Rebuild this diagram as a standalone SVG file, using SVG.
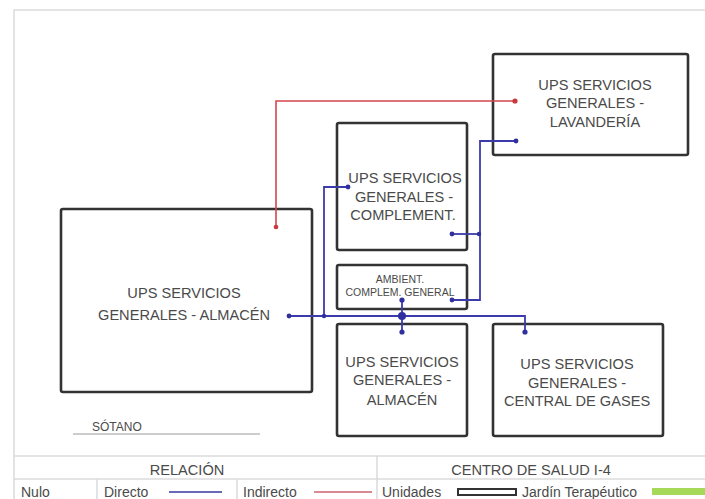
<svg xmlns="http://www.w3.org/2000/svg" width="705" height="499" viewBox="0 0 705 499">
<style>
.box{fill:#fff;stroke:#333;stroke-width:2.6}
.t{font-family:"Liberation Sans",Arial,sans-serif;fill:#4a4a4a;text-anchor:middle;font-size:14.6px}
.ts{font-family:"Liberation Sans",Arial,sans-serif;fill:#4a4a4a;text-anchor:middle;font-size:10.5px}
.lg{font-family:"Liberation Sans",Arial,sans-serif;fill:#4a4a4a;font-size:14px}
.frame{fill:none;stroke:#dcdcdc;stroke-width:1.6}
.blue{fill:none;stroke:#3b3bab;stroke-width:1.8}
.red{fill:none;stroke:#d4474c;stroke-width:1.6}
.bd{fill:#2f2f9e}
.rd{fill:#c9383e}
</style>
<rect width="705" height="499" fill="#fff"/>
<g id="frame">
<path class="frame" d="M14,499 V10 H705"/>
<path class="frame" d="M14,456 H705 M14,479 H705 M377,456 V499 M97,479 V499 M237,479 V499"/>
</g>
<g id="n-almacen-grande">
<rect class="box" x="61" y="209" width="251" height="183" rx="2"/>
<text class="t" x="184" y="298">UPS SERVICIOS</text>
<text class="t" x="184" y="320">GENERALES - ALMACÉN</text>
</g>
<g id="n-complement">
<rect class="box" x="337" y="123" width="130" height="127" rx="2"/>
<text class="t" x="405" y="183">UPS SERVICIOS</text>
<text class="t" x="404" y="202">GENERALES -</text>
<text class="t" x="403" y="220">COMPLEMENT.</text>
</g>
<g id="n-lavanderia">
<rect class="box" x="493" y="54" width="195" height="101" rx="2"/>
<text class="t" x="595" y="90">UPS SERVICIOS</text>
<text class="t" x="595" y="108">GENERALES -</text>
<text class="t" x="595" y="127">LAVANDERÍA</text>
</g>
<g id="n-ambient">
<rect class="box" x="337" y="265" width="130" height="44" rx="2"/>
<text class="ts" x="400" y="283">AMBIENT.</text>
<text class="ts" x="400" y="296">COMPLEM. GENERAL</text>
</g>
<g id="n-almacen">
<rect class="box" x="337" y="324" width="130" height="112" rx="2"/>
<text class="t" x="402" y="367">UPS SERVICIOS</text>
<text class="t" x="402" y="385">GENERALES -</text>
<text class="t" x="402" y="405">ALMACÉN</text>
</g>
<g id="n-gases">
<rect class="box" x="493" y="324" width="170" height="112" rx="2"/>
<text class="t" x="577" y="369">UPS SERVICIOS</text>
<text class="t" x="577" y="388">GENERALES -</text>
<text class="t" x="577" y="406">CENTRAL DE GASES</text>
</g>
<g id="connectors">
<path class="red" d="M276,227 V101 H515"/>
<circle class="rd" cx="276" cy="227" r="2.3"/>
<circle class="rd" cx="515" cy="101" r="2.6"/>
<path class="blue" d="M289,316 H525 V332"/>
<path class="blue" d="M324,316 V187 H348"/>
<path class="blue" d="M402,300 V332"/>
<path class="blue" d="M452,300 H480 V141 H516"/>
<path class="blue" d="M452,234 H480"/>
<circle class="bd" cx="289" cy="316" r="2.4"/>
<circle class="bd" cx="324" cy="316" r="2.2"/>
<circle class="bd" cx="348" cy="187" r="2.4"/>
<circle class="bd" cx="402" cy="300" r="2.6"/>
<circle class="bd" cx="402" cy="316" r="4"/>
<circle class="bd" cx="402" cy="332" r="2.6"/>
<circle class="bd" cx="525" cy="332" r="2.6"/>
<circle class="bd" cx="452" cy="300" r="2.4"/>
<circle class="bd" cx="452" cy="234" r="2.4"/>
<circle class="bd" cx="479" cy="234" r="2.2"/>
<circle class="bd" cx="516" cy="141" r="2.4"/>
</g>
<g id="sotano">
<text class="lg" x="92" y="431" style="font-size:12px">SÓTANO</text>
<line x1="73" y1="434" x2="260" y2="434" stroke="#9a9a9a" stroke-width="1"/>
</g>
<g id="legend">
<text class="t" x="187" y="475">RELACIÓN</text>
<text class="t" x="531" y="475">CENTRO DE SALUD I-4</text>
<text class="lg" x="21" y="497">Nulo</text>
<text class="lg" x="104" y="497">Directo</text>
<line x1="169" y1="492" x2="222" y2="492" stroke="#6a6ab8" stroke-width="2"/>
<text class="lg" x="243" y="497">Indirecto</text>
<line x1="314" y1="492" x2="372" y2="492" stroke="#d98a90" stroke-width="2"/>
<text class="lg" x="382" y="497">Unidades</text>
<rect x="458" y="489" width="58" height="6" fill="#fff" stroke="#333" stroke-width="2"/>
<text class="lg" x="522" y="497">Jardín Terapéutico</text>
<rect x="652" y="488" width="60" height="7" fill="#a6d85a"/>
</g>
</svg>
